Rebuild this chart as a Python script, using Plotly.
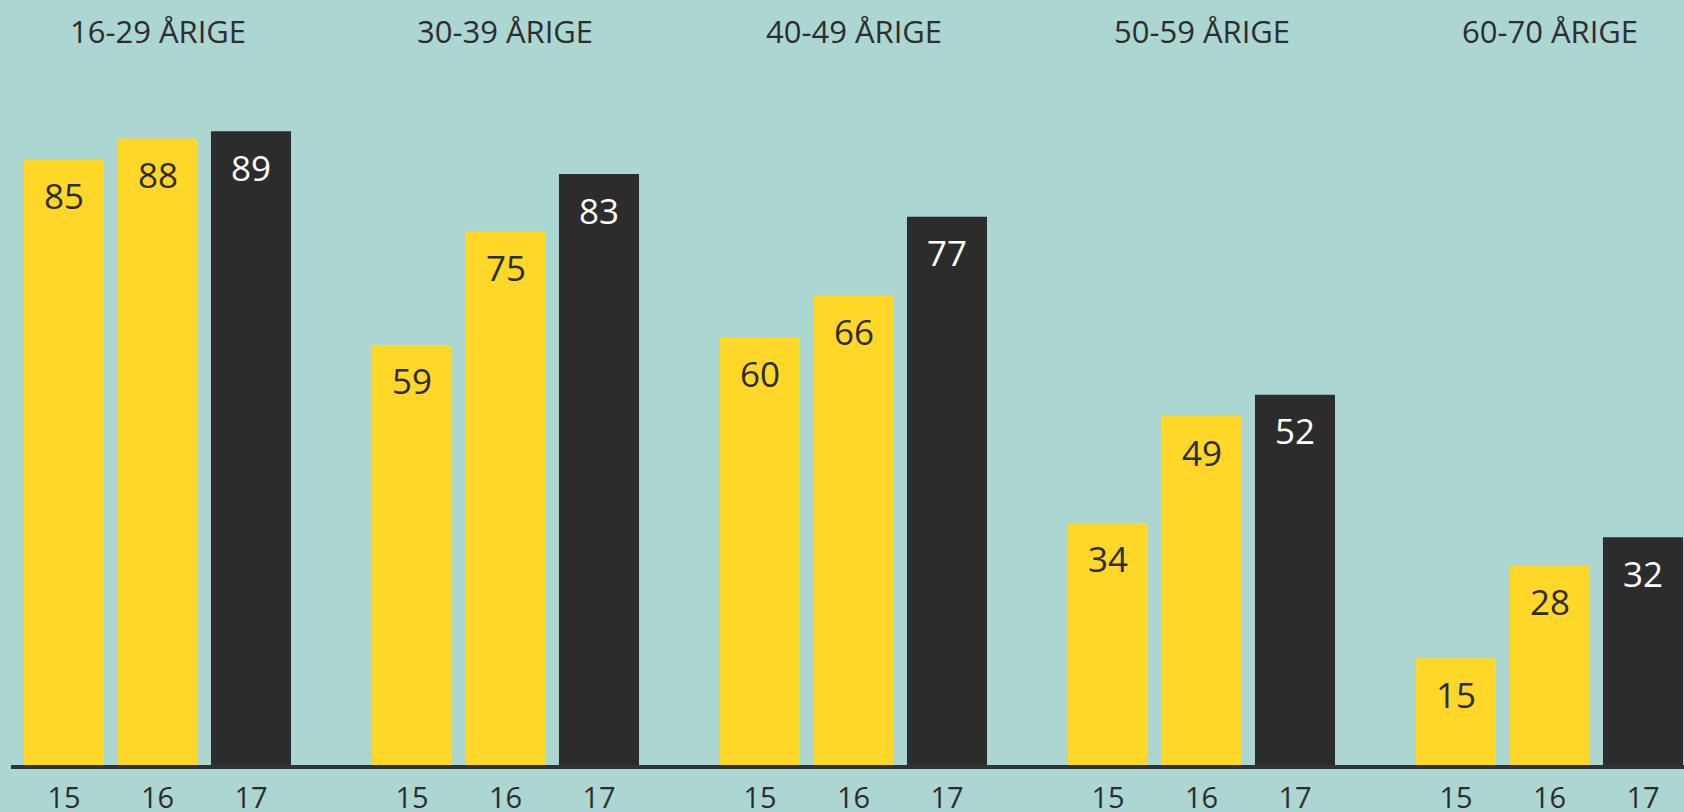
import plotly.graph_objects as go

# ---- data ----
groups = ["16-29 ÅRIGE", "30-39 ÅRIGE", "40-49 ÅRIGE", "50-59 ÅRIGE", "60-70 ÅRIGE"]
years = ["15", "16", "17"]
values_15 = [85, 59, 60, 34, 15]
values_16 = [88, 75, 66, 49, 28]
values_17 = [89, 83, 77, 52, 32]

# ---- style ----
BG = "#acd6d2"
YELLOW = "#ffd728"
DARK = "#2c2c2c"
TEXT = "#2d2d2d"
FONT = "Open Sans"
W, H = 1684, 812
bar_colors = [YELLOW, YELLOW, DARK]
label_colors = [TEXT, TEXT, "#ffffff"]

fig = go.Figure()
layout_axes = {}
annotations = []

group_pitch = 348
first_left = 24
group_w = 267

for g, name in enumerate(groups):
    ax_id = "" if g == 0 else str(g + 1)
    vals = [values_15[g], values_16[g], values_17[g]]
    fig.add_trace(go.Bar(
        x=years, y=vals,
        marker=dict(color=bar_colors, line=dict(width=0)),
        xaxis="x" + ax_id, yaxis="y",
        showlegend=False, hoverinfo="skip",
    ))
    left = (first_left + g * group_pitch) / W
    right = (first_left + g * group_pitch + group_w) / W
    layout_axes["xaxis" + ax_id] = dict(
        domain=[left, right], anchor="y",
        type="category", range=[-0.428, 2.428],
        showgrid=False, zeroline=False, showline=False,
        ticks="outside", ticklen=7, tickcolor="rgba(0,0,0,0)",
        tickfont=dict(family=FONT, size=29, color=TEXT),
        automargin=False, fixedrange=True,
    )
    # group title
    annotations.append(dict(
        text=name, x=(left + right) / 2, xref="paper", xanchor="center",
        y=1.0, yref="paper", yanchor="middle", yshift=22,
        showarrow=False,
        font=dict(family=FONT, size=31, color=TEXT),
    ))
    # value labels (x = category index of the year)
    for j, v in enumerate(vals):
        annotations.append(dict(
            text=str(v), x=j, y=v,
            xref="x" + ax_id, yref="y", xanchor="center",
            yanchor="middle", yshift=-36, showarrow=False,
            font=dict(family=FONT, size=35, color=label_colors[j]),
        ))

fig.update_layout(
    width=W, height=H,
    paper_bgcolor=BG, plot_bgcolor=BG,
    margin=dict(l=0, r=0, t=53, b=47, pad=0, autoexpand=False),
    bargap=0.144,
    yaxis=dict(domain=[0, 1], range=[0, 100], visible=False, fixedrange=True),
    annotations=annotations,
    shapes=[dict(
        type="line", xref="paper", yref="paper",
        x0=11 / W, x1=1.0, y0=-2 / 712, y1=-2 / 712,
        line=dict(color="#333333", width=4),
    )],
    **layout_axes,
)

fig.write_html(
    "out.html",
    config={"displayModeBar": False},
    post_script="document.body.style.margin='0';document.body.style.background='" + BG + "';",
)
